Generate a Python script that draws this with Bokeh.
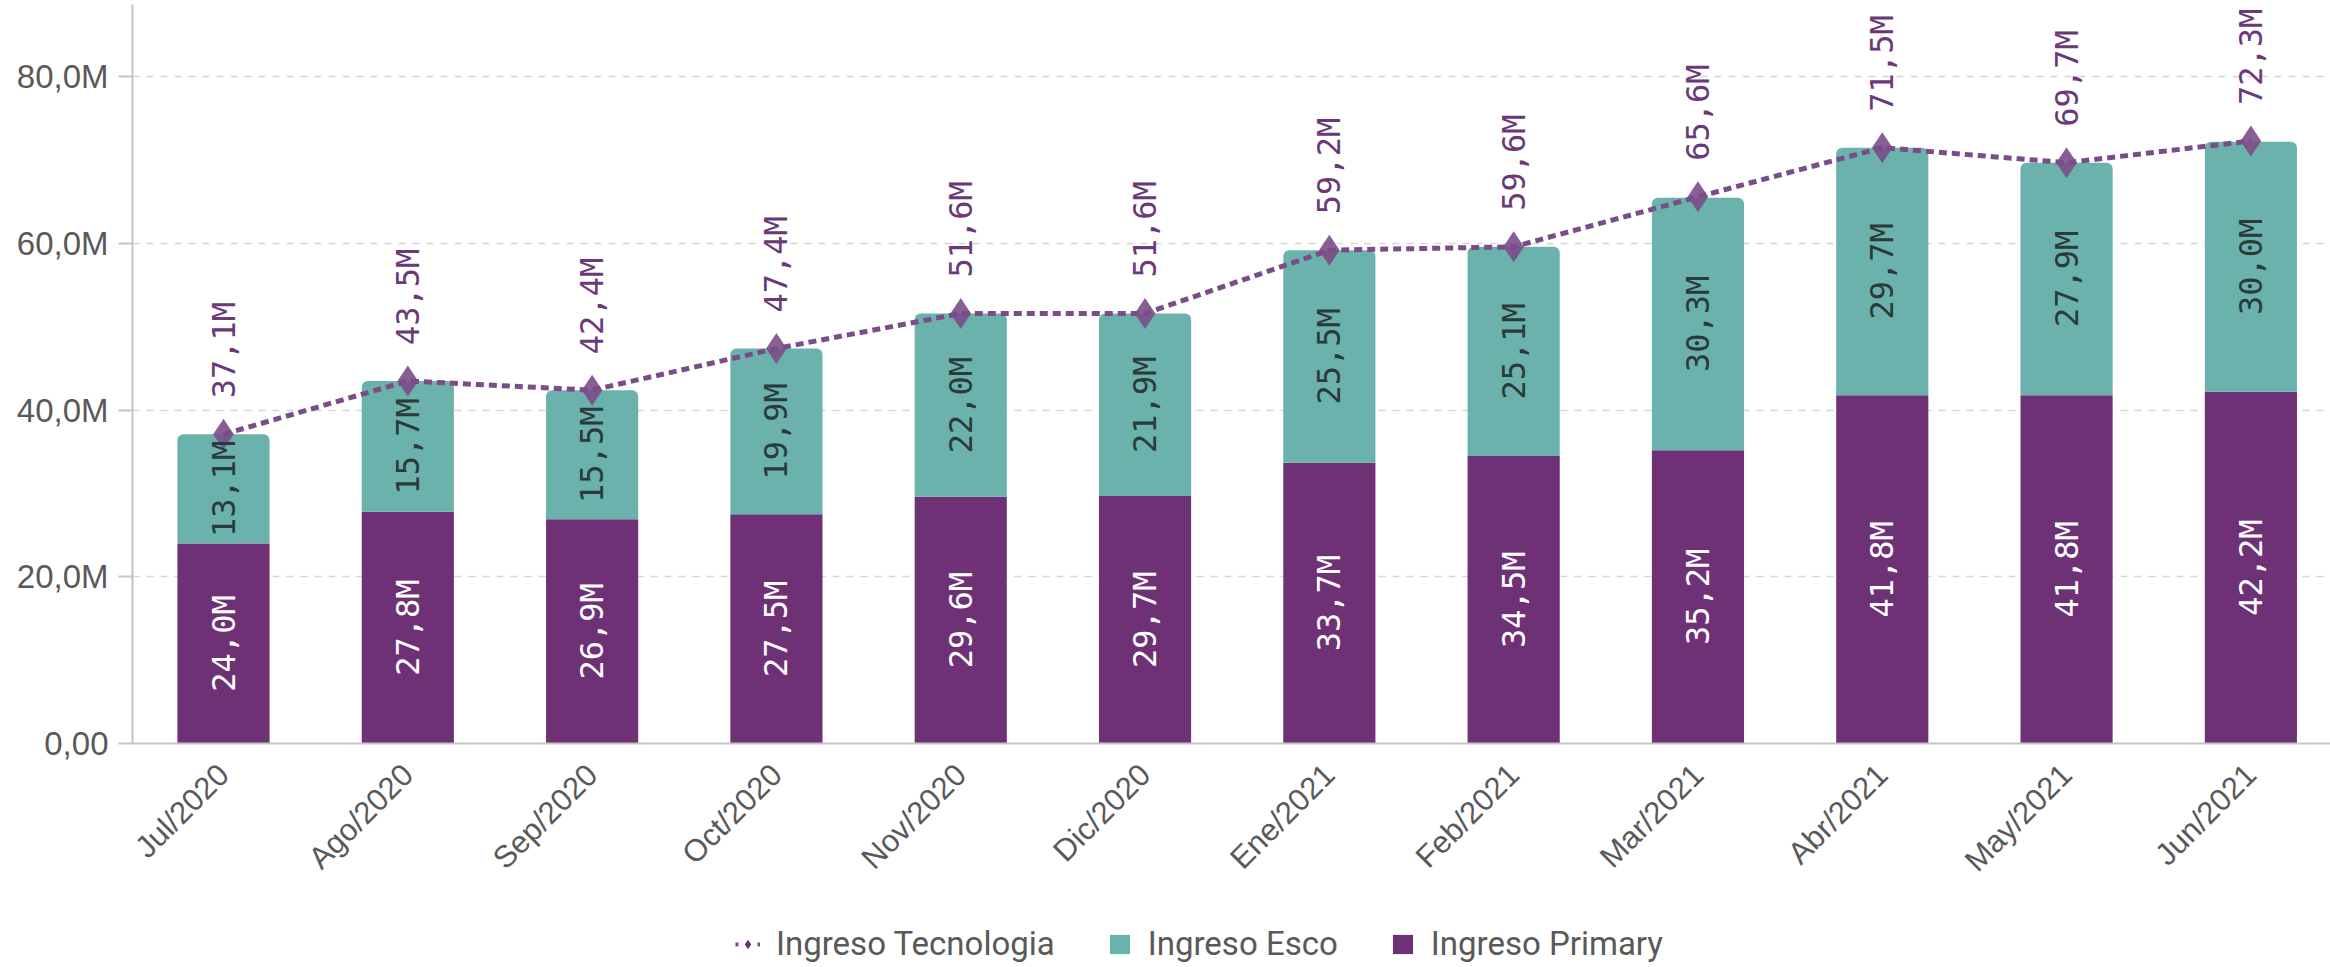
import math
from bokeh.plotting import figure
from bokeh.layouts import column
from bokeh.models import Range1d, FixedTicker, Legend, LegendItem
from bokeh.core.properties import value
from bokeh.embed import file_html
from bokeh.resources import INLINE

# ---- data (millions) ----
months = ["Jul/2020", "Ago/2020", "Sep/2020", "Oct/2020", "Nov/2020", "Dic/2020",
          "Ene/2021", "Feb/2021", "Mar/2021", "Abr/2021", "May/2021", "Jun/2021"]
primary = [24.0, 27.8, 26.9, 27.5, 29.6, 29.7, 33.7, 34.5, 35.2, 41.8, 41.8, 42.2]
esco = [13.1, 15.7, 15.5, 19.9, 22.0, 21.9, 25.5, 25.1, 30.3, 29.7, 27.9, 30.0]
tecnologia = [37.1, 43.5, 42.4, 47.4, 51.6, 51.6, 59.2, 59.6, 65.6, 71.5, 69.7, 72.3]
y_ticks = [0, 20, 40, 60, 80]
y_tick_labels = ["0,00", "20,0M", "40,0M", "60,0M", "80,0M"]
series_names = ["Ingreso Tecnologia", "Ingreso Esco", "Ingreso Primary"]

PURPLE = "#6E3176"
TEAL = "#6BB2AC"
LINE = "#7B4D88"
LABEL_FONT = value("DejaVu Sans Mono")


def fmt(v):
    return f"{v:.1f}".replace(".", ",") + "M"


xs = list(range(len(months)))
esco_top = [a + b for a, b in zip(primary, esco)]
prim_mid = [a / 2 for a in primary]
esco_mid = [a + b / 2 for a, b in zip(primary, esco)]

W = 2330
H_MAIN = 925
H_LEG = 42

p = figure(width=W, height=H_MAIN,
           x_range=Range1d(-0.4938, 11.432), y_range=Range1d(0, 88.68),
           output_backend="svg", toolbar_location=None,
           min_border_left=132, min_border_right=0,
           min_border_top=4, min_border_bottom=H_MAIN - 743)
p.outline_line_color = None
p.background_fill_color = "white"

# grid
p.xgrid.visible = False
p.ygrid.ticker = FixedTicker(ticks=y_ticks)
p.ygrid.grid_line_color = "#d6d6d6"
p.ygrid.grid_line_dash = "7 7"
p.ygrid.grid_line_width = 1.5

# bars
p.vbar(x=xs, bottom=0, top=primary, width=0.5, fill_color=PURPLE, line_color=None)
p.vbar(x=xs, bottom=primary, top=esco_top, width=0.5, fill_color=TEAL,
       line_color=None, border_radius=(6, 6, 0, 0))

# line + markers
p.line(xs, tecnologia, line_color=LINE, line_width=5, line_dash="8 5")
p.scatter(xs, tecnologia, marker="diamond", size=31,
          fill_color=LINE, fill_alpha=0.9, line_color=None)

# labels
p.text(x=xs, y=prim_mid, text=[fmt(v) for v in primary], angle=math.pi / 2,
       text_align="center", text_baseline="middle",
       text_font=LABEL_FONT, text_font_size="32px", text_color="white")
p.text(x=xs, y=esco_mid, text=[fmt(v) for v in esco], angle=math.pi / 2,
       text_align="center", text_baseline="middle",
       text_font=LABEL_FONT, text_font_size="32px", text_color="#2B3A3A")
p.text(x=xs, y=tecnologia, text=[fmt(v) for v in tecnologia], angle=math.pi / 2,
       text_align="left", text_baseline="middle", y_offset=-36,
       text_font=LABEL_FONT, text_font_size="32px", text_color="#6A3A78")

# y axis
ya = p.yaxis[0]
ya.ticker = FixedTicker(ticks=y_ticks)
ya.major_label_overrides = {t: l for t, l in zip(y_ticks, y_tick_labels)}
ya.axis_line_color = "#c4c4c4"
ya.axis_line_width = 2
ya.major_tick_line_color = "#c4c4c4"
ya.major_tick_line_width = 2
ya.major_tick_out = 14
ya.major_tick_in = 0
ya.minor_tick_line_color = None
ya.major_label_standoff = 10
ya.major_label_text_font = "Liberation Sans"
ya.major_label_text_font_size = "33px"
ya.major_label_text_color = "#595959"

# x axis
xa = p.xaxis[0]
xa.ticker = FixedTicker(ticks=xs)
xa.major_label_overrides = {i: m for i, m in zip(xs, months)}
xa.axis_line_color = "#c4c4c4"
xa.axis_line_width = 2
xa.major_tick_line_color = None
xa.minor_tick_line_color = None
xa.major_tick_out = 0
xa.major_label_standoff = 26
xa.major_label_orientation = math.pi / 4
xa.major_label_text_font = "Liberation Sans"
xa.major_label_text_font_size = "31px"
xa.major_label_text_color = "#595959"

# legend strip (same series, drawn out of view so only the legend shows)
lf = figure(width=W, height=H_LEG, x_range=Range1d(0, 1), y_range=Range1d(1000, 1001),
            output_backend="svg", toolbar_location=None,
            x_axis_type=None, y_axis_type=None,
            min_border_left=0, min_border_right=0, min_border_top=0, min_border_bottom=0)
lf.outline_line_color = None
lf.grid.visible = False
l_line = lf.line(xs, tecnologia, line_color=LINE, line_width=4, line_dash="3 8")
l_sc = lf.scatter(xs, tecnologia, marker="diamond", size=22,
                  fill_color="#6A2F78", line_color=None)
l_esco = lf.vbar(x=xs, bottom=primary, top=esco_top, width=0.5,
                 fill_color=TEAL, line_color=None)
l_prim = lf.vbar(x=xs, bottom=0, top=primary, width=0.5,
                 fill_color=PURPLE, line_color=None)

legend = Legend(items=[
    LegendItem(label=series_names[0], renderers=[l_line, l_sc]),
    LegendItem(label=series_names[1], renderers=[l_esco]),
    LegendItem(label=series_names[2], renderers=[l_prim]),
], orientation="horizontal", location=(603, 4),
    border_line_color=None, background_fill_alpha=0,
    label_text_font="Roboto", label_text_font_size="33px",
    label_text_color="#595959", glyph_width=25, glyph_height=24,
    label_standoff=16, spacing=52, padding=0, margin=0)
lf.add_layout(legend)

layout = column(p, lf, spacing=0)
open("out.html", "w").write(file_html(layout, INLINE))
